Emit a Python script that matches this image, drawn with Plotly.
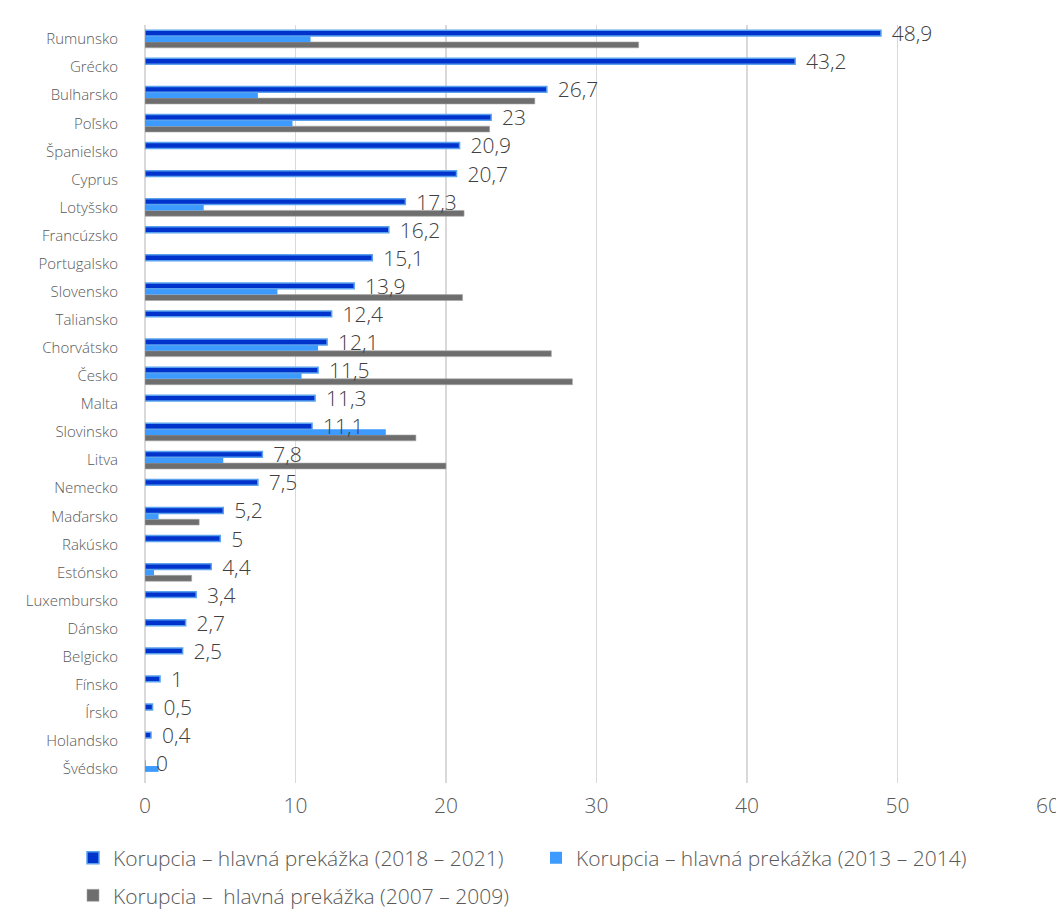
import plotly.graph_objects as go

countries = ["Rumunsko", "Grécko", "Bulharsko", "Poľsko", "Španielsko", "Cyprus",
             "Lotyšsko", "Francúzsko", "Portugalsko", "Slovensko", "Taliansko",
             "Chorvátsko", "Česko", "Malta", "Slovinsko", "Litva", "Nemecko",
             "Maďarsko", "Rakúsko", "Estónsko", "Luxembursko", "Dánsko",
             "Belgicko", "Fínsko", "Írsko", "Holandsko", "Švédsko"]

v_2018_2021 = [48.9, 43.2, 26.7, 23, 20.9, 20.7, 17.3, 16.2, 15.1, 13.9, 12.4,
               12.1, 11.5, 11.3, 11.1, 7.8, 7.5, 5.2, 5, 4.4, 3.4, 2.7, 2.5,
               1, 0.5, 0.4, 0]

v_2013_2014 = [11.0, None, 7.5, 9.8, None, None, 3.9, None, None, 8.8, None,
               11.5, 10.4, None, 16.0, 5.2, None, 0.9, None, 0.6, None, None,
               None, None, None, None, 0.9]

v_2007_2009 = [32.8, None, 25.9, 22.9, None, None, 21.2, None, None, 21.1, None,
               27.0, 28.4, None, 18.0, 20.0, None, 3.6, None, 3.1, None, None,
               None, None, None, None, None]

names = ["Korupcia – hlavná prekážka (2018 – 2021)",
         "Korupcia – hlavná prekážka (2013 – 2014)",
         "Korupcia –  hlavná prekážka (2007 – 2009)"]

x_ticks = [0, 10, 20, 30, 40, 50, 60]

FONT = "Open Sans"
AXIS_GREY = "#595959"


def fmt(v):
    return ("%g" % v).replace(".", ",")


labels = ["\u00a0\u00a0" + fmt(v) for v in v_2018_2021]

fig = go.Figure()

fig.add_trace(go.Bar(
    y=countries, x=v_2007_2009, orientation="h", name=names[2],
    marker=dict(color="#6e6e6e", line=dict(color="#a6a6a6", width=0.6)),
    legend="legend2", hoverinfo="skip",
))
fig.add_trace(go.Bar(
    y=countries, x=v_2013_2014, orientation="h", name=names[1],
    marker=dict(color="#3d9bff", line=dict(width=0)),
    legend="legend3", hoverinfo="skip",
))
fig.add_trace(go.Bar(
    y=countries, x=v_2018_2021, orientation="h", name=names[0],
    marker=dict(color="#0033cc", line=dict(color="#5aa2ee", width=1.5)),
    text=labels, textposition="outside", constraintext="none",
    cliponaxis=False,
    textfont=dict(family=FONT, size=21, color="#404040", weight=300),
    legend="legend", hoverinfo="skip",
))


def leg(xpx, y, anchor):
    return dict(
        orientation="h", xref="container", yref="container",
        x=xpx / 1064, xanchor="left", y=y, yanchor=anchor,
        font=dict(family=FONT, size=21, color=AXIS_GREY, weight=300),
        bgcolor="rgba(0,0,0,0)",
    )


fig.update_layout(
    width=1064, height=910,
    margin=dict(l=137, r=15, t=17, b=135),
    paper_bgcolor="white", plot_bgcolor="white",
    barmode="group", bargap=0.376, bargroupgap=0,
    font=dict(family=FONT, color=AXIS_GREY, weight=300),
    showlegend=True,
    legend=leg(65, 1 - 850 / 910, "middle"),
    legend3=leg(528, 1 - 850 / 910, "middle"),
    legend2=leg(65, 0.002, "bottom"),
    xaxis=dict(
        range=[0, 60], tickvals=x_ticks, ticktext=[str(t) for t in x_ticks],
        showgrid=True, gridcolor="#d9d9d9", gridwidth=1.5,
        zeroline=True, zerolinecolor="#d9d9d9", zerolinewidth=1.5,
        showline=False, ticks="", ticklabelstandoff=8,
        tickfont=dict(family=FONT, size=21, color=AXIS_GREY, weight=300),
        fixedrange=True,
    ),
    yaxis=dict(
        type="category", categoryorder="array",
        categoryarray=list(reversed(countries)),
        showgrid=False, zeroline=False, showline=False, ticks="",
        ticklabelstandoff=26,
        tickfont=dict(family=FONT, size=15, color=AXIS_GREY, weight=300),
        fixedrange=True,
    ),
    hovermode=False,
)

fig.write_html("out.html", config={"displayModeBar": False, "staticPlot": True})
